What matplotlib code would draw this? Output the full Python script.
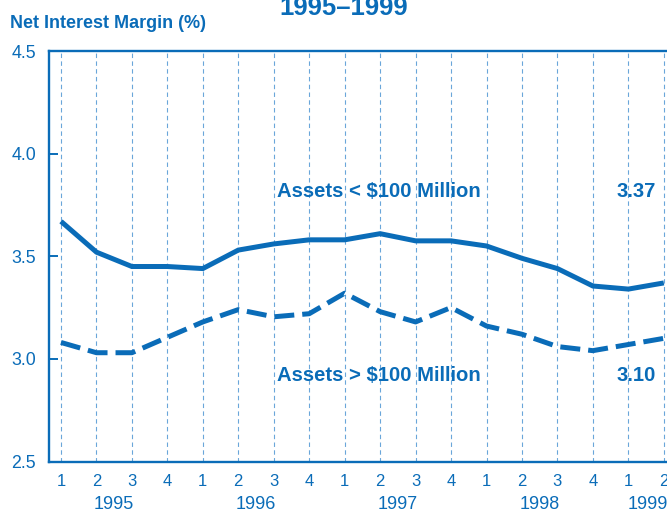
import matplotlib
matplotlib.use("Agg")
import matplotlib.pyplot as plt
import numpy as np

plt.rcParams['font.family'] = ['Liberation Sans', 'DejaVu Sans']

# Квартальные данные 1995–1999
quarters = ['1', '2', '3', '4', '1', '2', '3', '4', '1', '2', '3', '4',
            '1', '2', '3', '4', '1', '2']
years = ['1995', '1996', '1997', '1998', '1999']
year_pos = [1.5, 5.5, 9.5, 13.5, 16.55]

small_banks = [3.67, 3.52, 3.45, 3.45, 3.44, 3.53, 3.56, 3.58, 3.58,
               3.61, 3.575, 3.575, 3.55, 3.49, 3.44, 3.355, 3.34, 3.37]
large_banks = [3.08, 3.03, 3.03, 3.105, 3.18, 3.24, 3.205, 3.22, 3.32,
               3.23, 3.18, 3.25, 3.16, 3.12, 3.06, 3.04, 3.07, 3.10]

BLUE = '#0a6cb8'
GRID = '#6aa6da'


def main():
    fig = plt.figure(figsize=(6.67, 5.12), dpi=100)
    ax = fig.add_axes([48.5 / 667, 50.5 / 512, 629.5 / 667, 410.5 / 512])

    x = np.arange(len(quarters))

    # вертикальная пунктирная сетка
    for xi in x:
        ax.axvline(xi, color=GRID, lw=0.8, dashes=(4, 3), zorder=1)

    ax.plot(x, small_banks, color=BLUE, lw=3.6, solid_capstyle='butt',
            solid_joinstyle='miter', zorder=3)
    ax.plot(x, large_banks, color=BLUE, lw=3.6, dashes=(4, 1.6),
            dash_capstyle='butt', zorder=3)

    ax.set_xlim(-0.352, 17.4)
    ax.set_ylim(2.5, 4.5)

    ax.set_yticks([2.5, 3.0, 3.5, 4.0, 4.5])
    ax.set_yticklabels(['2.5', '3.0', '3.5', '4.0', '4.5'])
    ax.tick_params(axis='y', direction='in', length=6.5, width=1.4,
                   color=BLUE, labelcolor=BLUE, labelsize=12.8, pad=9)

    ax.set_xticks(x)
    ax.set_xticklabels(quarters)
    ax.tick_params(axis='x', length=0, labelcolor=BLUE, labelsize=12, pad=9)

    for s in ['left', 'top', 'bottom']:
        ax.spines[s].set_color(BLUE)
        ax.spines[s].set_linewidth(1.7)
    ax.spines['right'].set_visible(False)

    for yp, yr in zip(year_pos, years):
        ax.annotate(yr, xy=(yp, 0), xycoords=('data', 'axes fraction'),
                    xytext=(0, -34), textcoords='offset points',
                    ha='center', va='baseline', color=BLUE, fontsize=13,
                    annotation_clip=False)

    ax.text(6.09, 3.79, 'Assets < $100 Million', color=BLUE, fontsize=14.6,
            fontweight='bold', va='baseline', ha='left')
    ax.text(6.09, 2.89, 'Assets > $100 Million', color=BLUE, fontsize=14.6,
            fontweight='bold', va='baseline', ha='left')
    ax.text(15.68, 3.79, '3.37', color=BLUE, fontsize=14.6,
            fontweight='bold', va='baseline', ha='left')
    ax.text(15.68, 2.89, '3.10', color=BLUE, fontsize=14.6,
            fontweight='bold', va='baseline', ha='left')

    fig.text(343.5 / 667, 1 - 15 / 512, '1995\u20131999', color=BLUE,
             fontsize=18.5, fontweight='bold', ha='center', va='baseline')
    fig.text(10 / 667, 1 - 27.5 / 512, 'Net Interest Margin (%)', color=BLUE,
             fontsize=13, fontweight='bold', ha='left', va='baseline')

    fig.savefig('out.png', dpi=100, facecolor='white')


if __name__ == "__main__":
    main()
